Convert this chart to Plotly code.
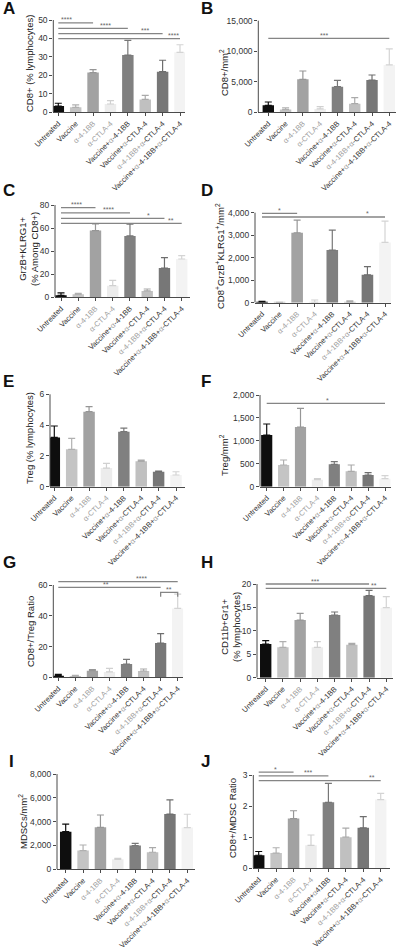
import plotly.graph_objects as go

W, H = 400, 949

# ---------------- data ----------------
CATEGORIES = ["Untreated", "Vaccine", "α-4-1BB", "α-CTLA-4", "Vaccine+α-4-1BB",
              "Vaccine+α-CTLA-4", "α-4-1BB+α-CTLA-4", "Vaccine+α-4-1BB+α-CTLA-4"]
CATEGORIES_J = ["Untreated", "Vaccine", "α-4-1BB", "α-CTLA-4", "Vaccine+α41BB",
                "Vaccine+α-CTLA-4", "α-4-1BB+α-CTLA-4", "Vaccine+α-4-1BB+α-CTLA-4"]

A_MEAN = [3.4, 2.7, 21.5, 4.5, 31.0, 7.0, 22.0, 32.5]
A_SEM = [1.5, 1.3, 1.6, 1.8, 8.0, 2.2, 6.2, 4.1]
B_MEAN = [1150, 440, 5400, 550, 4200, 1420, 5290, 7750]
B_SEM = [540, 270, 1360, 380, 1040, 980, 820, 2650]
C_MEAN = [1.7, 2.6, 57.8, 10.1, 53.2, 5.5, 25.4, 33.2]
C_SEM = [2.1, 0.9, 5.8, 4.6, 10.1, 1.7, 9.0, 2.9]
D_MEAN = [35, 10, 3110, 20, 2340, 30, 1240, 2680]
D_SEM = [20, 10, 560, 100, 890, 50, 360, 950]
E_MEAN = [3.2, 2.43, 4.87, 1.21, 3.57, 1.65, 0.97, 0.76]
E_SEM = [0.74, 0.71, 0.33, 0.31, 0.24, 0.08, 0.05, 0.21]
F_MEAN = [1127, 473, 1302, 153, 487, 335, 255, 175]
F_SEM = [240, 109, 407, 22, 58, 138, 50, 65]
G_MEAN = [1.08, 0.65, 4.33, 3.47, 8.66, 4.1, 22.3, 44.8]
G_SEM = [0.87, 0.65, 0.65, 2.38, 3.04, 1.3, 6.1, 9.3]
H_MEAN = [7.19, 6.48, 12.31, 6.48, 13.38, 7.05, 17.5, 14.95]
H_SEM = [0.71, 1.21, 1.43, 1.21, 0.64, 0.28, 1.15, 2.35]
I_MEAN = [3160, 1570, 3520, 840, 1990, 1430, 4640, 3500]
I_SEM = [640, 470, 1040, 80, 190, 390, 1180, 1120]
J_MEAN = [0.42, 0.49, 1.6, 0.74, 2.12, 1.0, 1.3, 2.21]
J_SEM = [0.12, 0.17, 0.25, 0.33, 0.61, 0.29, 0.36, 0.2]

# significance bars: (from category, to category, value, label, label position)
A_SIG = [(0, 2, 48.4, "****", 0.5), (0, 4, 45.5, "****", 2.7),
         (0, 6, 42.6, "***", 5.0), (0, 7, 39.9, "****", 6.6)]
B_SIG = [(0, 7, 12100, "***", 3.2)]
C_SIG = [(0, 2, 77.7, "****", 0.9), (0, 4, 73.1, "****", 2.75),
         (0, 6, 68.4, "*", 5.07), (0, 7, 64.1, "**", 6.4)]
D_SIG = [(0, 2, 3970, "*", 1.0), (0, 7, 3810, "*", 6.0)]
E_SIG = []
F_SIG = [(0, 7, 1818, "*", 3.6)]
G_SIG = [(0, 7, 62.2, "****", 4.9), (0, 6, 58.5, "**", 2.8)]
G_BRACKET = [(6, 7, 55.2, 52.4, "**", 6.5)]
H_SIG = [(0, 6, 20.0, "***", 2.86), (0, 7, 19.07, "**", 6.3)]
I_SIG = []
J_SIG = [(0, 2, 3.09, "*", 0.94), (0, 4, 2.97, "***", 2.85), (0, 7, 2.82, "**", 6.5)]

# ---------------- styling ----------------
BAR_COLORS = ["#0e0e0e", "#c4c4c4", "#a2a2a2", "#ececec", "#808080", "#c0c0c0", "#777777", "#f3f3f3"]
ERR_COLORS = ["#0e0e0e", "#b0b0b0", "#969696", "#d0d0d0", "#777777", "#aaaaaa", "#6e6e6e", "#d4d4d4"]
GRAY = "#a0a0a0"
FONT = "Arial, Liberation Sans, Helvetica, sans-serif"
AXC = "#4a4a4a"


def styled(label):
    g = lambda s: f'<span style="color:{GRAY}">{s}</span>'
    if label.startswith("α"):
        if "+" in label:
            head, tail = label.split("+", 1)
            return g(head + "+α") + tail[1:]
        return g(label)
    return label.replace("α", g("α"))


# geometry in pixels: axis left, first centre, last centre, axis right, zero y, top-tick y
PANELS = [
    dict(L="A", m=A_MEAN, s=A_SEM, sig=A_SIG, ax0=53.3, c0=58.3, c7=180, ax1=185, yz=112.3, yt=20,
         top=50, dt=10, title="CD8+ (% lymphocytes)", tp=(30, 64), lp=(1, 8)),
    dict(L="B", m=B_MEAN, s=B_SEM, sig=B_SIG, ax0=258.3, c0=268.3, c7=389.3, ax1=396, yz=112.3, yt=20.7,
         top=15000, dt=5000, title="CD8+/mm<sup>2</sup>", tp=(224, 73), lp=(199, 8)),
    dict(L="C", m=C_MEAN, s=C_SEM, sig=C_SIG, ax0=55, c0=61, c7=181.7, ax1=190, yz=297.3, yt=205,
         top=80, dt=20, title="GrzB+KLRG1+<br>(% Among CD8+)", tp=(28, 249), lp=(1, 191)),
    dict(L="D", m=D_MEAN, s=D_SEM, sig=D_SIG, ax0=255, c0=262, c7=385, ax1=391, yz=302.7, yt=212.7,
         top=4000, dt=1000, title="CD8<sup>+</sup>GrzB<sup>+</sup>KLRG1<sup>+</sup>/mm<sup>2</sup>",
         tp=(220, 256), lp=(199, 191)),
    dict(L="E", m=E_MEAN, s=E_SEM, sig=E_SIG, ax0=50, c0=54.3, c7=176, ax1=185, yz=486.7, yt=394.3,
         top=6, dt=2, title="Treg (% lymphocytes)", tp=(29, 438), lp=(1, 381)),
    dict(L="F", m=F_MEAN, s=F_SEM, sig=F_SIG, ax0=260, c0=266.7, c7=385, ax1=390.7, yz=486.7, yt=395,
         top=2000, dt=500, title="Treg/mm<sup>2</sup>", tp=(224, 455), lp=(199, 381)),
    dict(L="G", m=G_MEAN, s=G_SEM, sig=G_SIG, ax0=53.3, c0=58.3, c7=177.7, ax1=183.3, yz=677.3, yt=585,
         top=60, dt=20, title="CD8+/Treg Ratio", tp=(30, 632), lp=(1, 562)),
    dict(L="H", m=H_MEAN, s=H_SEM, sig=H_SIG, ax0=257, c0=265.7, c7=386.3, ax1=392.7, yz=677.7, yt=584,
         top=20, dt=5, title="CD11b+Gr1+<br>(% lymphocytes)", tp=(230, 627), lp=(199, 562)),
    dict(L="I", m=I_MEAN, s=I_SEM, sig=I_SIG, ax0=57, c0=65.7, c7=187.3, ax1=195, yz=869.3, yt=774,
         top=8000, dt=2000, title="MDSCs/mm<sup>2</sup>", tp=(23, 822), lp=(7, 761)),
    dict(L="J", m=J_MEAN, s=J_SEM, sig=J_SIG, ax0=253.3, c0=258.7, c7=380.7, ax1=390, yz=868.3, yt=775,
         top=3, dt=1, title="CD8+/MDSC Ratio", tp=(232, 818), lp=(199, 761)),
]

fig = go.Figure()
layout = dict(template="none", width=W, height=H, margin=dict(l=0, r=0, t=0, b=0, pad=0),
              autosize=False, paper_bgcolor="white", plot_bgcolor="rgba(0,0,0,0)",
              showlegend=False, barmode="overlay", font=dict(family=FONT, color="#333"))
shapes, annos = [], []
PAD = 14

for i, p in enumerate(PANELS):
    n = "" if i == 0 else str(i + 1)
    xa, ya = "x" + n, "y" + n
    cats = CATEGORIES_J if p["L"] == "J" else CATEGORIES
    sp = (p["c7"] - p["c0"]) / 7.0
    xr = [(p["ax0"] - p["c0"]) / sp, (p["ax1"] - p["c0"]) / sp]
    dom_top_px = p["yt"] - PAD
    ymax = p["top"] * (p["yz"] - dom_top_px) / (p["yz"] - p["yt"])

    for k in range(8):
        fig.add_trace(go.Bar(
            x=[k], y=[p["m"][k]], width=0.66, xaxis=xa, yaxis=ya,
            marker=dict(color=BAR_COLORS[k], line=dict(width=0)),
            error_y=dict(type="data", array=[p["s"][k]], arrayminus=[0], symmetric=False,
                         color=ERR_COLORS[k], thickness=1.2, width=3.5),
            hoverinfo="skip"))

    layout["xaxis" + n] = dict(
        domain=[p["ax0"] / W, p["ax1"] / W], anchor=ya, range=xr, automargin=False,
        tickmode="array", tickvals=list(range(8)), ticktext=[styled(c) for c in cats],
        tickangle=-45, tickfont=dict(size=7.5, family=FONT, color="#333"),
        showline=True, linecolor=AXC, linewidth=1, ticks="outside", ticklen=3,
        tickcolor=AXC, showgrid=False, zeroline=False, fixedrange=True)
    layout["yaxis" + n] = dict(
        domain=[1 - p["yz"] / H, 1 - dom_top_px / H], anchor=xa, range=[0, ymax], automargin=False,
        tickmode="array", tickvals=list(range(0, int(p["top"]) + 1, int(p["dt"]))),
        tickformat=",", tickfont=dict(size=8.5, family=FONT, color="#333"),
        showline=False, ticks="outside", ticklen=3, tickcolor=AXC,
        showgrid=False, zeroline=False, fixedrange=True)

    # y axis line only up to the top tick
    shapes.append(dict(type="line", xref=xa + " domain", yref=ya, x0=0, x1=0, y0=0, y1=p["top"],
                       line=dict(color=AXC, width=1)))

    for (a, b, v, lab, lx) in p["sig"]:
        shapes.append(dict(type="line", xref=xa, yref=ya, x0=a, x1=b, y0=v, y1=v,
                           line=dict(color="#858585", width=1.3)))
        annos.append(dict(xref=xa, yref=ya, x=lx, y=v, text=lab, showarrow=False,
                          yanchor="middle", yshift=3, font=dict(size=7, color="#666", family=FONT)))
    if p["L"] == "G":
        for (a, b, v, v2, lab, lx) in G_BRACKET:
            shapes.append(dict(type="path", xref=xa, yref=ya,
                               path=f"M {a},{v2} L {a},{v} L {b},{v} L {b},{v2}",
                               line=dict(color="#858585", width=1.3)))
            annos.append(dict(xref=xa, yref=ya, x=lx, y=v, text=lab, showarrow=False,
                              yanchor="middle", yshift=3, font=dict(size=7, color="#666", family=FONT)))

    # axis title
    annos.append(dict(xref="paper", yref="paper", x=p["tp"][0] / W, y=1 - p["tp"][1] / H,
                      text=p["title"], textangle=-90, showarrow=False,
                      xanchor="center", yanchor="middle",
                      font=dict(size=9.5, color="#222", family=FONT)))
    # panel letter
    annos.append(dict(xref="paper", yref="paper", x=p["lp"][0] / W, y=1 - p["lp"][1] / H,
                      text=f"<b>{p['L']}</b>", showarrow=False, xanchor="left", yanchor="middle",
                      font=dict(size=17, color="#111", family=FONT)))

layout["shapes"] = shapes
layout["annotations"] = annos
fig.update_layout(**layout)
fig.write_html("out.html", config={"displayModeBar": False},
               post_script="document.body.style.margin='0';document.body.style.overflow='hidden';")
